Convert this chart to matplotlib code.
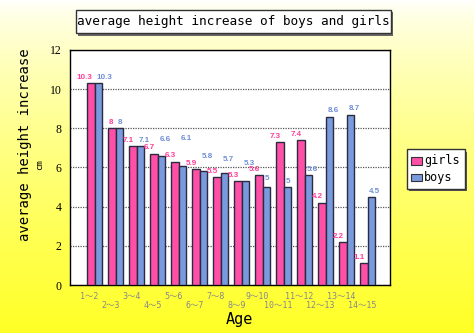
import numpy as np
import matplotlib
matplotlib.use("Agg")
from matplotlib import pyplot as plt
from matplotlib.patches import Rectangle

ages = ["1～2", "2～3", "3～4", "4～5", "5～6", "6～7", "7～8",
        "8～9", "9～10", "10～11", "11～12", "12～13", "13～14", "14～15"]
girls = [10.3, 8, 7.1, 6.7, 6.3, 5.9, 5.5, 5.3, 5.6, 7.3, 7.4, 4.2, 2.2, 1.1]
boys = [10.3, 8, 7.1, 6.6, 6.1, 5.8, 5.7, 5.3, 5, 5, 5.6, 8.6, 8.7, 4.5]

mono = ['DejaVu Sans Mono', 'Noto Sans CJK JP']
plt.rcParams['font.family'] = mono

fig = plt.figure(figsize=(4.74, 3.33), dpi=100)

# yellow gradient background
bg = fig.add_axes([0, 0, 1, 1], zorder=-10)
grad = np.linspace(0, 1, 256).reshape(-1, 1)
cols = np.ones((256, 1, 3))
cols[..., 2] = 1.0 - 0.85 * grad ** 0.7
bg.imshow(cols[::-1], aspect='auto', extent=[0, 1, 0, 1], origin='lower')
bg.set_axis_off()

ax = fig.add_axes([0.148, 0.144, 0.675, 0.706])
x = np.arange(len(ages))
w = 0.36
pink = "#ff4fa7"
blue = "#7a9ade"
ax.bar(x - w / 2, girls, w, color=pink, edgecolor="#2a2a40", linewidth=1, zorder=3)
ax.bar(x + w / 2, boys, w, color=blue, edgecolor="#2a2a40", linewidth=1, zorder=3)

# value labels: girls end at their bar, boys start at theirs;
# some boys labels are pushed up like in the original to avoid collisions
lift = {3: 0.55, 4: 1.1, 5: 0.45, 6: 0.4, 7: 0.6, 8: 0.15}
for i in range(len(ages)):
    ax.text(x[i] - w / 2 + 0.05, girls[i] + 0.12, str(girls[i]), color="#ff3d96",
            fontsize=5.8, fontweight='bold', family='Liberation Sans',
            ha='right', va='bottom', zorder=4)
    ax.text(x[i] + w / 2 - 0.1, boys[i] + 0.12 + lift.get(i, 0), str(boys[i]),
            color="#6f8fd6", fontsize=5.8, fontweight='bold', family='Liberation Sans',
            ha='left', va='bottom', zorder=4)

ax.set_xlim(-1.17, 14.07)
ax.set_ylim(0, 12)
ax.set_yticks([0, 2, 4, 6, 8, 10, 12])
ax.tick_params(axis='y', labelsize=8.5, length=0, pad=6)
for t in ax.get_yticklabels():
    t.set_family('Liberation Serif')
ax.yaxis.grid(True, linestyle=(0, (1, 1)), color="#555555", linewidth=0.9, zorder=0)
ax.set_xticks([])
for s in ax.spines.values():
    s.set_color("black")
    s.set_linewidth(1)

for i, a in enumerate(ages):
    yoff = -0.05 if i % 2 == 0 else -0.087
    ax.text(x[i] - 0.25, yoff, a, transform=ax.get_xaxis_transform(), ha='center',
            va='center', fontsize=6, color="#888888")

fig.text(0.505, 0.04, "Age", fontsize=11, ha='center', va='center')
fig.text(0.053, 0.565, "average height increase", fontsize=10, rotation=90,
         ha='center', va='center')
fig.text(0.084, 0.505, "cm", fontsize=6.5, rotation=90, ha='center', va='center')

# title box with shadow
fig.patches.append(Rectangle((0.164, 0.893), 0.665, 0.07, transform=fig.transFigure,
                             facecolor="#666666", edgecolor="none", zorder=1))
fig.patches.append(Rectangle((0.16, 0.9), 0.665, 0.07, transform=fig.transFigure,
                             facecolor="white", edgecolor="#333333", linewidth=1, zorder=2))
fig.text(0.4925, 0.935, "average height increase of boys and girls", fontsize=9.2,
         ha='center', va='center', zorder=3)

# legend box with shadow
fig.patches.append(Rectangle((0.863, 0.425), 0.122, 0.12, transform=fig.transFigure,
                             facecolor="#555555", edgecolor="none", zorder=1))
fig.patches.append(Rectangle((0.859, 0.432), 0.122, 0.12, transform=fig.transFigure,
                             facecolor="white", edgecolor="#333333", linewidth=1, zorder=2))
for k, (lab, c) in enumerate([("girls", pink), ("boys", blue)]):
    yy = 0.517 - k * 0.05
    fig.patches.append(Rectangle((0.868, yy - 0.011), 0.022, 0.022, transform=fig.transFigure,
                                 facecolor=c, edgecolor="#333333", linewidth=0.8, zorder=3))
    fig.text(0.894, yy, lab, fontsize=8.5, ha='left', va='center', zorder=3)

fig.savefig("out.png", dpi=100)
